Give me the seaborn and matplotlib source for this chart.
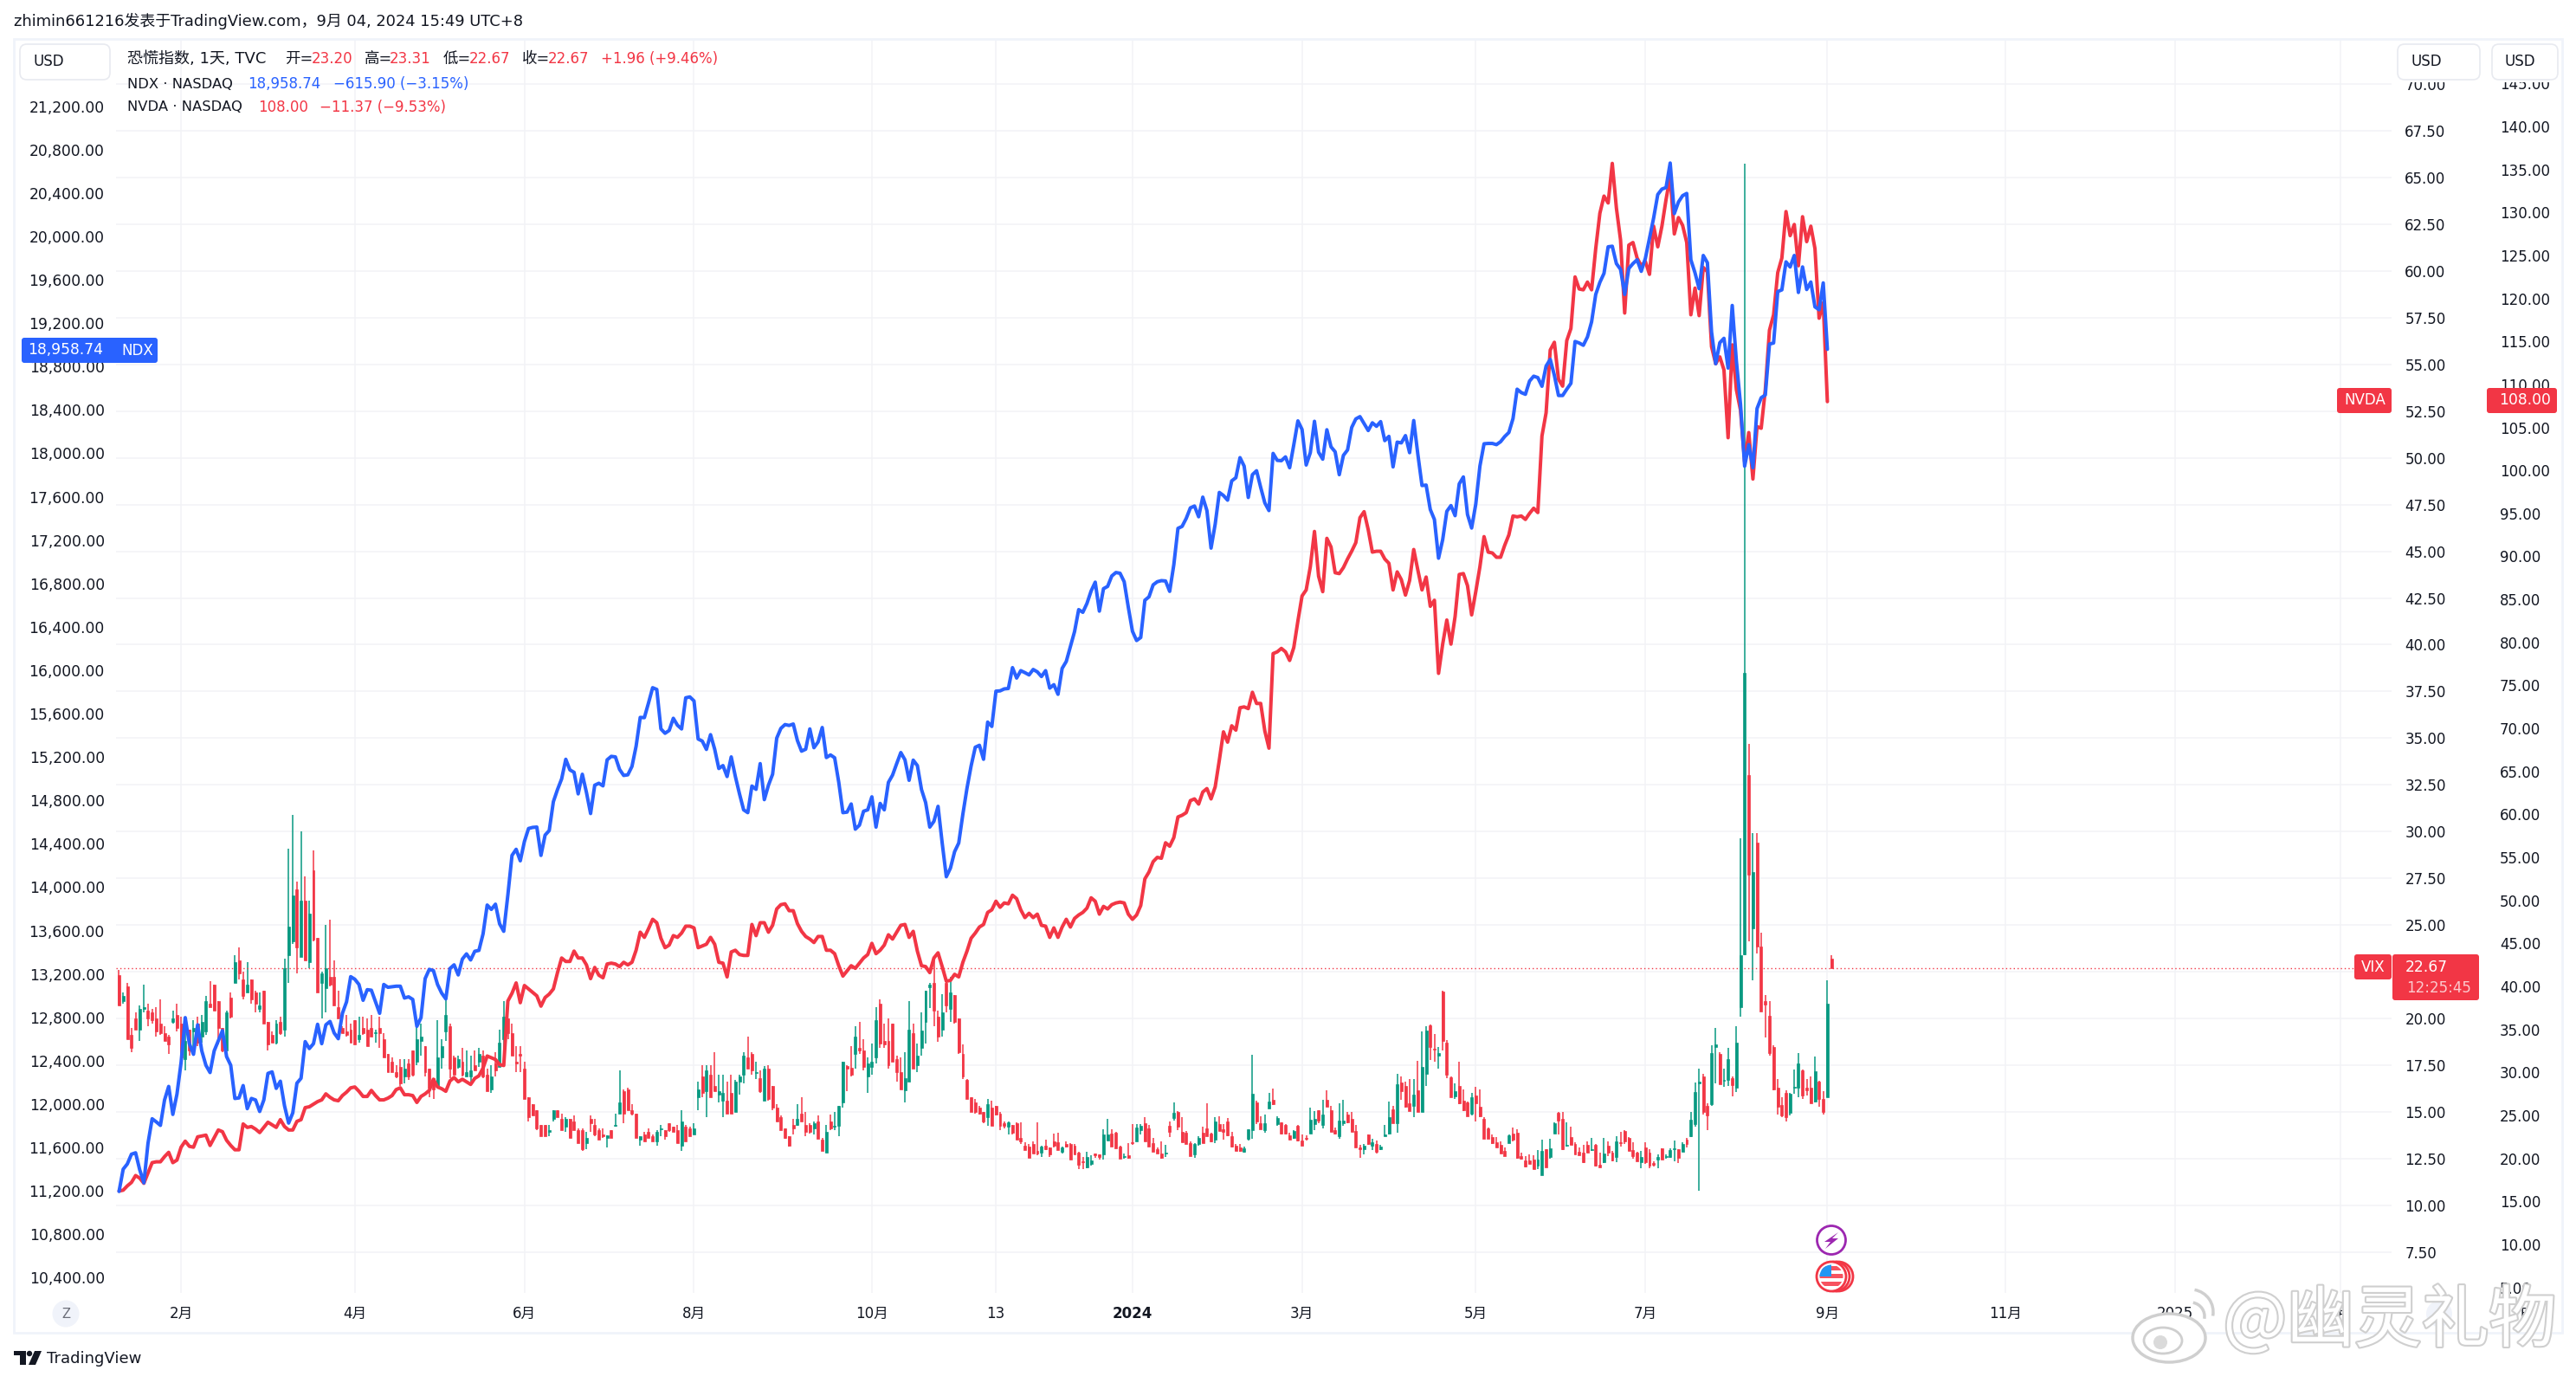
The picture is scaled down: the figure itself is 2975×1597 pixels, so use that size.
# vix / ndx / nvda tradingview overlay
import numpy as np
import pandas as pd
import matplotlib
matplotlib.use("Agg")
import matplotlib.pyplot as plt
import matplotlib.patheffects as pe
from matplotlib.patches import Rectangle, Circle, Ellipse, FancyBboxPatch, Polygon
import seaborn as sns

# --- Data ---
ndx_close = [
    11195,11400,11448,11538,11551,11394,11274,11639,11865,11836,
    11804,12038,12163,11905,12092,12384,12797,12557,12459,12731,
    12491,12358,12291,12491,12584,12677,12438,12358,12052,12057,
    12171,11958,12052,12038,11932,12038,12283,12297,12145,12211,
    11985,11825,11919,12193,12238,12576,12512,12557,12736,12557,
    12731,12762,12656,12603,12837,12943,13175,13151,13103,12957,
    13055,13050,12943,12837,13103,13077,13082,13087,13087,12978,
    12989,12965,12717,12797,13157,13242,13231,13103,13023,12970,
    13250,13284,13191,13337,13385,13329,13409,13417,13569,13835,
    13795,13843,13662,13593,13928,14293,14349,14243,14421,14541,
    14551,14554,14293,14480,14522,14788,14900,14998,15179,15081,
    15059,14860,15041,14873,14679,14940,14958,14934,15174,15206,
    15201,15086,15030,15036,15113,15299,15565,15563,15698,15839,
    15823,15459,15419,15445,15557,15493,15459,15746,15754,15717,
    15366,15347,15270,15406,15272,15094,15121,15020,15201,15020,
    14860,14713,14687,14932,14902,15139,14807,14940,15041,15374,
    15464,15499,15491,15504,15352,15254,15272,15459,15286,15339,
    15472,15195,15219,15193,14966,14687,14692,14767,14535,14572,
    14700,14713,14833,14554,14772,14713,14966,15033,15139,15241,
    15174,14985,15171,15121,14900,14780,14554,14607,14745,14407,
    14096,14176,14327,14407,14673,14913,15119,15290,15308,15179,
    15522,15482,15807,15810,15828,15832,16024,15928,15996,15978,
    15957,16007,15985,15942,15996,15835,15867,15778,16017,16081,
    16217,16356,16559,16534,16616,16730,16812,16545,16752,16773,
    16869,16901,16894,16816,16580,16359,16274,16302,16645,16677,
    16787,16816,16826,16823,16727,16973,17308,17326,17400,17497,
    17514,17415,17596,17472,17126,17347,17639,17611,17568,17746,
    17775,17960,17882,17593,17803,17839,17686,17543,17472,17999,
    17935,17932,17967,17867,18078,18299,18220,17892,18006,18295,
    18010,17946,18217,18060,18014,17803,17981,18031,18238,18317,
    18338,18274,18210,18281,18249,18292,18117,18156,17875,18103,
    18096,18163,18006,18302,17989,17703,17707,17482,17390,17033,
    17204,17465,17518,17425,17718,17782,17436,17311,17532,17882,
    18088,18091,18091,18080,18107,18155,18192,18320,18591,18560,
    18544,18666,18711,18698,18618,18804,18866,18719,18533,18533,
    18591,18645,19031,19017,18996,19073,19212,19465,19576,19659,
    19904,19909,19749,19696,19465,19704,19749,19784,19678,19797,
    19984,20170,20386,20436,20450,20676,20210,20317,20375,20396,
    19784,19664,19518,19824,19757,19119,18826,19020,19060,18786,
    19363,18852,18453,17881,18080,17867,18413,18512,18538,19007,
    19017,19491,19507,19765,19718,19824,19483,19718,19510,19579,
    19350,19324,19571,18959,
]
nvda_close = [
    16.2,16.3,16.8,17.2,18.0,17.7,17.1,18.3,19.5,19.6,
    19.6,20.2,20.7,19.5,19.8,21.3,22.0,21.4,21.3,22.5,
    22.6,22.7,21.5,22.4,23.3,23.1,22.1,21.5,21.0,21.0,
    24.0,23.6,23.7,23.4,23.0,23.6,24.2,23.9,23.6,24.5,
    23.7,23.3,23.3,24.3,24.5,25.9,26.0,26.3,26.6,26.8,
    27.5,27.1,26.8,26.7,27.3,27.7,28.2,28.3,27.8,27.2,
    27.2,27.9,27.3,26.8,26.8,27.0,27.3,28.0,28.2,27.4,
    27.4,27.3,26.5,27.2,27.5,27.9,29.2,28.3,28.1,27.8,
    29.0,29.4,28.9,29.2,28.9,28.6,29.3,29.6,30.5,31.9,
    31.7,31.5,30.9,30.8,38.3,39.2,40.4,38.1,40.1,39.7,
    39.3,38.9,37.7,38.7,39.1,39.7,41.6,43.3,42.9,42.9,
    44.1,43.3,43.3,42.5,40.9,42.2,41.3,41.0,42.6,42.7,
    42.6,42.3,42.8,42.5,42.8,44.2,46.3,45.7,46.7,47.8,
    47.4,45.6,44.5,44.8,45.9,45.7,46.2,47.0,47.0,46.8,
    44.5,44.7,44.9,45.7,44.9,42.8,42.7,41.1,44.0,44.2,
    43.7,43.6,43.6,47.2,45.9,47.4,47.4,46.3,47.1,49.0,
    49.5,49.6,48.8,48.8,47.3,46.4,45.8,45.5,45.1,45.8,
    45.8,44.2,44.2,43.8,42.4,41.2,41.8,42.4,42.1,42.7,
    43.3,43.7,45.0,43.8,44.2,44.8,46.0,45.5,46.3,47.1,
    47.2,45.7,46.4,44.1,42.4,42.3,41.6,43.3,43.9,42.3,
    40.6,40.7,41.4,41.1,42.8,44.1,45.6,46.2,46.9,47.2,
    48.6,48.9,49.9,49.2,49.7,49.6,50.6,50.2,48.9,48.0,
    48.5,48.0,48.4,47.1,47.0,45.7,46.8,45.7,46.9,47.8,
    46.9,47.9,48.3,48.6,49.1,50.3,49.9,48.4,49.3,49.0,
    49.5,49.7,49.8,49.7,48.4,47.8,48.3,49.4,52.5,53.3,
    54.5,55.0,54.9,56.7,56.3,57.3,59.7,59.9,60.2,61.6,
    61.8,61.2,62.6,63.0,61.8,63.2,66.3,69.6,68.4,70.3,
    69.8,72.4,72.5,72.3,74.2,72.9,72.9,69.7,67.7,78.7,
    78.9,79.3,78.9,77.9,79.4,82.5,85.4,86.1,88.8,92.9,
    87.7,85.9,92.1,91.1,88.1,88.0,88.7,89.7,90.6,91.6,
    94.5,95.2,93.1,90.5,90.6,90.6,89.7,89.2,86.1,88.2,
    87.3,85.5,87.2,90.8,88.4,86.1,87.6,84.2,84.9,76.4,
    79.8,82.6,79.8,83.0,87.9,88.0,86.6,83.2,85.9,88.8,
    92.3,90.5,90.4,89.9,89.9,91.3,92.5,94.7,94.6,94.7,
    94.3,95.0,95.6,95.1,104.0,106.7,114.0,114.9,110.6,109.8,
    115.1,116.5,122.5,121.1,121.0,121.9,121.0,125.8,129.9,131.9,
    131.1,135.7,130.5,126.8,118.3,126.2,126.5,124.7,123.8,124.3,
    122.8,128.4,126.0,128.4,131.5,134.2,127.5,129.4,128.5,126.5,
    118.1,121.2,118.0,123.6,123.1,114.4,112.4,113.2,111.7,103.8,
    114.6,109.4,107.0,101.0,104.4,99.0,105.1,104.9,109.4,116.3,
    118.1,123.0,124.7,130.1,127.3,128.6,123.8,129.5,126.6,128.4,
    125.8,117.7,119.5,108.0,
]
vix_open = [
    22.3,20.9,21.7,19.1,20.0,19.4,20.5,20.4,20.3,20.0,
    19.7,19.2,19.0,19.8,20.2,19.7,17.8,19.4,19.3,19.7,
    19.0,19.3,20.8,21.8,20.9,19.5,18.3,21.1,21.9,23.1,
    22.1,21.4,22.1,21.4,20.5,21.5,19.8,19.1,18.7,19.8,
    19.4,23.4,24.1,26.9,23.3,26.3,23.0,27.9,24.3,21.9,
    21.6,22.2,22.2,20.6,19.5,19.3,19.4,19.9,18.9,19.5,
    19.4,19.5,19.2,19.5,18.9,18.1,17.7,17.1,17.4,16.9,
    17.6,18.3,17.7,18.8,18.5,17.3,16.8,16.4,17.9,19.3,
    19.6,17.9,17.4,17.7,16.9,16.9,17.5,17.7,18.0,17.0,
    16.2,17.6,17.4,18.9,20.0,19.2,17.7,18.1,17.3,15.8,
    15.4,15.1,14.3,14.3,13.9,14.6,15.1,14.6,14.2,14.6,
    14.5,14.0,14.0,13.3,14.6,14.3,14.0,13.8,13.6,14.0,
    14.25,14.9,16.1,16.2,15.1,14.9,13.5,13.8,13.9,13.7,
    13.4,14.05,14.0,14.4,14.2,14.0,13.2,14.2,14.1,13.8,
    15.8,16.9,16.1,17.0,16.4,15.9,15.6,15.6,16.0,15.0,
    16.6,17.0,17.9,18.1,17.08,16.8,15.6,17.3,16.4,15.2,
    14.7,14.1,13.7,14.3,14.3,14.9,14.3,14.3,14.1,14.5,
    13.5,12.8,14.5,14.2,14.25,15.5,17.45,17.35,18.1,18.4,
    18.3,16.9,17.4,17.9,20.8,18.8,18.8,19.7,17.8,17.1,
    16.15,16.6,19.2,17.5,18.4,19.8,21.67,21.9,20.1,19.4,
    21.9,20.5,21.25,20.0,18.1,16.7,15.8,15.5,15.2,15.0,
    14.7,15.2,15.3,14.9,14.37,14.2,14.3,14.39,13.6,13.2,
    13.13,13.27,12.9,12.81,13.18,13.09,13.41,13.37,12.86,13.27,
    13.27,13.18,12.81,12.35,12.02,12.21,12.76,12.72,12.72,13.46,
    13.83,13.88,13.13,12.58,12.67,13.37,13.41,14.02,14.39,14.11,
    13.32,13.0,12.76,12.76,14.25,14.66,14.99,13.92,13.88,13.32,
    12.72,13.27,13.88,14.11,13.83,13.5,14.34,14.06,14.48,13.69,
    13.18,13.09,12.86,13.55,14.02,15.5,14.39,14.02,15.17,15.64,
    14.34,14.43,14.3,13.74,13.6,14.25,13.46,13.6,13.83,14.34,
    15.08,14.3,15.64,15.08,14.02,13.69,14.39,14.85,14.62,13.97,
    13.09,13.0,13.78,13.18,13.27,13.0,13.69,13.83,15.13,14.39,
    16.56,16.38,15.45,15.31,16.15,14.99,17.03,19.62,18.37,18.0,
    21.43,18.7,16.84,15.82,16.38,15.59,15.5,14.9,15.87,15.27,
    14.62,14.11,13.64,13.37,13.23,12.9,13.32,13.83,13.88,12.62,
    12.39,12.39,12.44,12.12,11.6,13.0,12.58,13.83,14.94,14.62,
    13.18,13.64,13.27,12.86,12.81,13.23,12.95,13.23,12.16,12.3,
    13.18,12.81,12.58,13.37,13.97,13.6,12.95,12.81,12.3,13.09,
    12.81,12.25,12.44,13.04,12.58,12.58,13.0,13.0,12.86,13.5,
    13.69,14.34,16.52,16.89,15.31,15.41,18.46,18.09,16.66,16.7,
    16.8,16.29,20.6,23.44,33.0,24.8,29.4,23.85,20.9,20.13,
    18.47,16.3,15.34,15.99,14.92,16.27,16.27,17.2,16.3,16.27,
    15.54,16.62,15.7,15.77,23.2,
]
vix_close = [
    20.7,21.2,18.9,18.4,19.4,20.5,20.6,20.0,19.9,19.3,
    19.2,18.8,18.6,20.0,19.5,17.9,18.8,18.3,19.5,18.7,
    19.8,20.9,20.6,20.4,19.5,18.3,20.3,20.1,23.0,22.4,
    21.2,21.8,21.0,20.8,20.7,19.7,18.6,18.7,19.7,19.2,
    22.7,24.9,26.6,23.8,26.3,23.1,25.6,24.2,21.4,22.4,
    22.7,21.8,20.7,20.0,19.2,19.1,18.7,18.6,19.1,19.2,
    18.5,19.0,19.25,19.2,17.9,17.1,17.1,16.9,16.5,17.3,
    16.9,17.0,18.9,19.0,17.1,16.3,16.2,17.9,18.5,20.2,
    17.3,17.0,17.8,17.0,17.1,17.2,17.2,18.1,16.9,16.1,
    16.9,17.2,18.7,20.1,19.2,18.0,17.6,18.0,15.7,14.7,
    14.8,14.1,13.7,13.7,14.0,15.1,14.7,14.0,14.6,13.6,
    14.0,13.3,13.0,13.6,14.4,13.8,13.5,13.7,13.74,13.6,
    14.3,15.5,14.9,15.1,14.9,13.6,13.7,13.4,13.6,13.4,
    13.9,14.1,13.7,14.0,13.9,13.3,14.5,13.4,13.7,14.1,
    16.2,16.0,17.2,15.8,16.1,16.1,16.0,14.9,14.9,16.6,
    16.9,18.0,17.3,17.2,17.1,16.1,17.3,15.7,15.2,14.5,
    14.0,13.6,13.2,14.1,14.6,14.5,13.9,13.9,14.4,13.55,
    12.9,13.9,14.1,14.25,15.3,17.7,17.3,17.0,19.0,18.3,
    17.4,17.6,17.7,19.9,18.65,18.6,17.5,17.7,17.1,16.2,
    16.8,19.4,17.3,18.0,19.35,21.5,21.8,20.4,19.0,20.3,
    20.7,21.4,19.8,18.2,16.9,15.7,15.0,15.0,14.9,14.5,
    15.4,14.25,14.85,14.25,14.25,14.43,13.86,13.5,13.41,12.95,
    12.53,12.76,12.76,13.13,13.0,12.72,13.18,12.95,13.09,13.13,
    12.44,12.72,12.16,12.32,12.58,12.39,12.67,12.58,13.78,13.78,
    13.13,13.04,12.49,12.61,12.53,13.32,14.15,14.25,13.41,13.13,
    12.86,12.76,12.53,12.81,13.92,14.94,14.2,13.37,13.27,12.62,
    13.27,13.6,13.32,13.69,13.41,14.48,13.97,13.92,13.74,13.13,
    12.9,12.9,13.04,14.06,15.96,14.48,14.06,14.39,15.55,15.41,
    14.66,13.83,13.83,13.5,13.97,13.46,13.18,13.55,14.57,14.62,
    14.53,14.85,15.27,13.92,13.83,14.53,14.53,14.43,13.92,13.09,
    13.0,13.18,13.27,13.37,12.86,13.13,13.78,14.71,14.39,16.47,
    16.1,15.27,15.03,15.92,14.99,17.4,19.35,18.46,18.33,18.14,
    18.79,16.98,15.78,16.1,15.45,15.08,14.76,15.78,15.45,14.76,
    13.55,13.55,13.32,13.09,12.76,12.62,13.74,13.5,12.53,12.49,
    12.07,12.21,11.93,12.44,12.9,12.02,13.04,14.39,14.53,13.0,
    13.23,13.23,12.72,12.67,12.3,12.81,13.0,12.12,12.02,12.76,
    12.81,12.39,13.41,13.32,13.41,12.9,12.62,12.35,12.58,12.3,
    12.12,12.16,12.58,12.44,12.62,12.95,13.04,12.53,13.27,13.27,
    14.57,16.05,16.61,14.99,14.8,18.14,18.6,16.47,16.7,17.82,
    16.43,18.7,23.4,38.5,27.7,27.85,23.85,20.36,20.75,18.13,
    16.2,15.25,14.8,14.7,15.95,16.32,17.6,15.87,16.14,15.44,
    17.15,15.7,15.0,20.8,22.67,
]
vix_high = [
    22.6,21.4,21.9,19.5,20.3,20.7,21.8,20.8,20.5,20.6,
    21.0,19.6,19.1,20.4,20.8,20.1,20.1,19.4,19.9,20.1,
    20.2,21.2,22.0,21.8,20.9,19.5,20.4,21.4,23.4,23.8,
    22.5,23.0,22.1,21.5,21.4,21.5,19.8,19.3,19.9,20.1,
    23.2,29.1,30.9,27.3,30.0,27.6,26.3,29.0,24.3,22.5,
    25.0,25.3,23.1,21.5,19.6,20.2,19.7,19.9,20.1,20.1,
    20.0,20.2,19.4,20.1,19.2,18.1,17.9,17.5,17.8,17.8,
    17.8,18.3,19.7,19.7,18.5,17.3,16.8,19.9,18.9,21.1,
    19.7,18.0,18.0,18.4,18.3,18.0,18.3,18.4,18.3,17.3,
    17.5,18.2,19.4,20.9,20.0,19.7,18.5,18.5,17.7,15.8,
    15.4,15.1,14.3,14.3,14.3,15.1,15.1,14.9,14.7,14.6,
    14.8,14.1,14.1,13.9,14.8,14.6,14.1,14.1,13.74,14.0,
    14.9,17.2,16.2,16.3,15.4,14.9,13.7,13.9,14.1,13.8,
    14.0,14.3,14.0,14.4,14.2,14.3,15.1,14.3,14.2,14.4,
    16.6,17.5,17.5,17.5,18.2,17.0,17.0,16.6,17.0,16.7,
    17.0,18.2,19.0,18.2,17.7,17.2,17.45,17.5,16.4,15.4,
    14.8,14.1,13.7,14.6,15.4,15.8,15.0,14.4,14.5,14.8,
    13.6,14.3,14.85,15.0,15.3,17.7,17.5,18.5,19.6,19.8,
    18.9,17.9,18.65,20.6,21.0,19.7,20.0,19.7,18.0,17.9,
    18.2,20.9,19.7,18.65,20.3,21.5,21.9,23.2,20.4,21.3,
    22.0,22.2,21.25,20.0,18.6,16.75,15.8,15.7,15.3,15.0,
    15.7,15.6,15.3,15.0,14.48,14.5,14.3,14.43,14.43,13.37,
    13.27,13.41,14.43,13.2,13.5,13.09,13.83,13.88,13.13,13.41,
    13.32,13.27,12.86,12.58,12.86,12.67,12.76,12.72,14.06,14.62,
    14.06,13.92,13.18,12.76,13.32,14.34,14.34,14.34,14.71,14.3,
    13.6,13.09,13.41,13.23,14.48,15.5,15.03,14.71,13.97,13.41,
    13.32,13.69,14.2,15.45,13.88,14.71,14.76,14.34,14.66,13.92,
    13.27,13.27,13.13,14.06,18.05,15.59,14.76,14.85,16.01,16.24,
    14.76,14.43,14.34,13.88,14.02,14.3,13.78,13.74,15.22,15.03,
    15.08,15.64,16.15,15.31,14.15,15.45,15.64,14.99,14.99,14.3,
    13.23,13.27,13.78,13.55,13.46,13.23,14.3,15.55,15.31,17.03,
    16.89,16.61,16.75,16.75,17.72,19.3,19.58,19.67,19.17,18.46,
    21.48,18.84,16.89,16.52,17.68,16.19,15.55,16.01,16.33,16.19,
    14.71,14.15,13.78,13.64,13.41,13.09,13.78,14.15,14.06,12.81,
    12.62,12.72,12.67,12.95,13.5,13.0,13.55,14.43,14.99,14.99,
    14.43,14.2,13.37,13.09,13.23,13.41,13.6,13.27,12.81,13.6,
    13.41,12.9,13.69,13.92,14.02,13.64,13.37,12.86,12.9,13.37,
    13.0,12.35,12.72,13.04,12.72,13.04,13.46,13.0,13.37,13.6,
    14.99,16.56,17.31,17.03,15.45,18.56,19.48,18.19,17.31,18.42,
    16.89,19.58,29.66,65.73,34.7,29.9,29.9,24.6,21.25,20.9,
    18.55,16.73,15.8,16.14,16.0,17.25,18.13,17.25,16.73,16.87,
    17.95,16.64,16.1,22.04,23.4,
]
vix_low = [
    20.7,20.8,18.9,18.2,19.4,18.8,20.3,19.6,19.7,19.0,
    19.1,18.8,18.1,19.7,19.3,17.9,17.2,18.0,18.0,18.5,
    18.7,19.1,20.6,20.4,18.6,18.2,18.3,20.0,21.9,22.1,
    21.0,21.4,20.8,20.3,20.3,19.7,18.3,18.7,18.6,19.1,
    19.0,21.9,24.0,22.4,23.3,23.1,22.7,24.1,21.4,20.0,
    20.3,21.7,20.7,20.0,19.2,19.0,18.7,18.6,18.7,19.1,
    18.5,19.0,18.7,18.4,17.9,17.1,17.1,16.8,16.4,16.5,
    16.7,16.9,17.5,18.0,16.9,15.8,15.7,16.3,17.3,18.8,
    16.8,17.0,17.3,16.9,16.9,16.6,17.2,17.4,16.8,16.1,
    16.0,16.9,17.4,17.4,18.9,18.0,17.1,17.1,15.7,14.5,
    14.8,14.0,13.7,13.7,13.7,14.5,14.7,14.0,13.9,13.6,
    14.0,13.3,12.9,13.0,13.9,13.7,13.5,13.6,13.1,13.6,
    14.2,14.9,14.4,15.1,14.8,13.6,13.2,13.4,13.6,13.4,
    13.2,13.7,13.5,13.9,13.9,13.3,12.9,13.4,13.7,13.8,
    15.1,15.8,14.7,15.8,16.1,15.5,14.7,14.9,14.9,15.0,
    15.9,16.5,17.3,17.0,16.75,16.0,15.6,15.6,15.1,14.5,
    14.0,13.55,13.14,13.8,14.25,14.5,13.7,13.85,13.8,13.55,
    12.9,12.8,14.0,14.0,13.7,15.2,16.1,16.9,17.3,18.1,
    17.2,16.0,17.0,17.6,18.4,18.4,17.3,17.7,16.6,16.2,
    15.5,16.6,17.3,17.1,18.0,18.65,20.55,19.6,18.75,19.0,
    20.3,19.8,19.7,18.1,16.75,15.7,15.0,14.9,14.85,14.4,
    14.25,14.25,14.8,14.0,14.12,13.8,13.8,13.5,13.27,12.95,
    12.53,12.76,12.67,12.6,12.95,12.6,13.09,12.95,12.76,13.09,
    12.44,12.72,11.93,11.93,11.98,12.12,12.53,12.44,12.44,13.46,
    13.13,13.04,12.49,12.49,12.49,13.23,13.41,13.78,13.41,13.13,
    12.86,12.76,12.49,12.58,13.64,14.53,14.02,13.37,13.27,12.62,
    12.53,13.18,13.32,13.69,13.37,13.32,13.97,13.5,13.69,13.09,
    12.9,12.86,12.81,13.46,13.55,14.34,14.06,13.88,15.17,15.36,
    14.25,13.78,13.78,13.5,13.55,13.41,13.18,13.46,13.83,14.02,
    14.39,14.11,15.27,13.92,13.78,13.55,14.25,14.39,13.92,13.09,
    12.53,12.72,13.23,12.95,12.76,12.95,13.69,13.78,14.39,13.88,
    15.64,15.22,15.03,14.71,14.99,14.99,16.38,17.77,17.68,17.31,
    18.28,16.8,15.78,15.68,15.41,15.03,14.76,14.8,14.48,14.71,
    13.55,13.55,13.27,13.09,12.76,12.62,13.32,13.41,12.49,12.44,
    12.02,12.21,11.93,11.93,11.6,12.02,12.49,13.83,13.78,12.95,
    13.13,13.23,12.72,12.67,12.25,12.81,12.9,12.07,12.02,12.25,
    12.62,12.35,12.3,13.13,13.27,12.9,12.49,12.35,11.98,12.21,
    11.98,12.07,11.98,12.44,12.49,12.53,12.35,12.25,12.86,13.09,
    13.64,14.2,10.77,14.85,14.02,15.31,16.52,16.47,16.33,16.38,
    15.82,16.06,20.1,23.4,24.1,22.05,23.46,20.36,18.97,18.0,
    16.17,14.84,14.7,14.5,14.82,15.97,15.8,15.67,15.87,15.44,
    15.5,15.25,14.84,15.77,22.67,
]
time_ticks = [15, 57, 98, 139, 182, 212, 245, 286, 328, 369, 413, 456, 497, 537]
time_labels = ["2月", "4月", "6月", "8月", "10月", "13", "2024", "3月", "5月", "7月", "9月", "11月", "2025", "3月"]
ndx_ticks = list(range(10400, 21201, 400))
vix_ticks = [7.5 + 2.5 * k for k in range(26)]
nvda_ticks = list(range(5, 146, 5))

RED = "#F23645"
GREEN = "#089981"
BLUE = "#2962FF"
INK = "#131722"
GRID = "#F2F3F6"
FRAME = "#F0F3FA"

sns.set_theme(style="white")
plt.rcParams["font.family"] = ["DejaVu Sans", "Noto Sans CJK SC"]

W, H = 2975, 1597
L, R, T, B = 134, 2762, 46, 1493
fig = plt.figure(figsize=(W / 100, H / 100), dpi=100, facecolor="white")
ax_vix = fig.add_axes([L / W, 1 - B / H, (R - L) / W, (B - T) / H])
ax_nvda = ax_vix.twinx()
ax_ndx = ax_vix.twinx()

# --- VIX candles ---
candles = pd.DataFrame({"open": vix_open, "high": vix_high, "low": vix_low, "close": vix_close})
candles["day"] = candles.index
candles["color"] = np.where(candles["close"] >= candles["open"], GREEN, RED)
ax_vix.vlines(candles["day"], candles["low"], candles["high"], colors=candles["color"], linewidth=1.1, zorder=2)
ax_vix.bar(candles["day"], (candles["close"] - candles["open"]).abs(),
           bottom=candles[["open", "close"]].min(axis=1), width=0.62,
           color=candles["color"], edgecolor=candles["color"], linewidth=0.5, zorder=3)
ax_vix.axhline(vix_close[-1], color=RED, linewidth=1, linestyle=(0, (1, 2.2)), zorder=2)

# --- Lines ---
sns.lineplot(x=np.arange(len(nvda_close)), y=nvda_close, ax=ax_nvda, color=RED, linewidth=2.9,
             estimator=None, legend=False, solid_joinstyle="round")
sns.lineplot(x=np.arange(len(ndx_close)), y=ndx_close, ax=ax_ndx, color=BLUE, linewidth=2.9,
             estimator=None, legend=False, solid_joinstyle="round")

# --- Scales ---
ax_vix.set_xlim(-0.73, 549.4)
ax_vix.set_ylim(5.30, 72.38)
ax_nvda.set_ylim(4.35, 150.07)
ax_ndx.set_ylim(10259, 21812)

ax_vix.set_xticks(time_ticks, time_labels)
ax_vix.set_yticks(vix_ticks, [f"{v:.2f}" for v in vix_ticks])
ax_nvda.set_yticks(nvda_ticks, [f"{v:.2f}" for v in nvda_ticks])
ax_ndx.set_yticks(ndx_ticks, [f"{v:,.2f}" for v in ndx_ticks])
ax_vix.yaxis.tick_right()
ax_ndx.yaxis.tick_left()
ax_vix.grid(True, color=GRID, linewidth=1.1)
ax_vix.set_axisbelow(True)

ax_vix.tick_params(axis="x", length=0, pad=11, labelsize=12, labelcolor=INK)
ax_vix.tick_params(axis="y", length=0, pad=11, labelsize=12, labelcolor=INK, labelright=True, labelleft=False)
ax_nvda.tick_params(axis="y", length=0, pad=90, labelsize=12, labelcolor=INK)
ax_ndx.tick_params(axis="y", length=0, pad=9.5, labelsize=12.3, labelcolor=INK)
for lab in ax_vix.get_xticklabels():
    if lab.get_text() == "2024":
        lab.set_fontweight("bold")
for a in (ax_vix, ax_nvda, ax_ndx):
    a.set(xlabel="", ylabel="")
    sns.despine(ax=a, left=True, right=True, top=True, bottom=True)

# --- Chrome in pixel coordinates ---
ov = fig.add_axes([0, 0, 1, 1], zorder=10)
ov.set_xlim(0, W)
ov.set_ylim(H, 0)
ov.axis("off")


def label(x, y, s, color=INK, size=12, ha="left", **kw):
    return ov.text(x, y, s, color=color, fontsize=size, ha=ha, va="center", **kw)


def tag(x0, y0, x1, y1, color=RED):
    ov.add_patch(FancyBboxPatch((x0 + 3, y0 + 3), x1 - x0 - 6, y1 - y0 - 6, boxstyle="round,pad=3",
                                facecolor=color, edgecolor="none"))


def usd(x0, x1, tx):
    ov.add_patch(FancyBboxPatch((x0 + 8, 51 + 8), x1 - x0 - 16, 41 - 16, boxstyle="round,pad=8",
                                facecolor="white", edgecolor="#E8EAF0", linewidth=1.2))
    label(tx, 71, "USD", size=12)


ov.add_patch(Rectangle((16, 45), 2943, 1494, fill=False, edgecolor=FRAME, linewidth=2))
ov.add_patch(Rectangle((2765, 47), 192, 48, facecolor="white", edgecolor="none"))
usd(23, 127, 38)
usd(2769, 2864, 2784)
usd(2878, 2954, 2893)

label(16, 24, "zhimin661216发表于TradingView.com，9月 04, 2024 15:49 UTC+8", size=12.9)
label(147, 68, "恐慌指数, 1天, TVC", size=13)
for x, s in [(329, "开="), (421, "高="), (512, "低="), (603, "收=")]:
    label(x, 68, s, size=12.6)
for x, s in [(360, "23.20"), (450, "23.31"), (542, "22.67"), (633, "22.67"), (694, "+1.96 (+9.46%)")]:
    label(x, 68, s, color=RED, size=12)
label(147, 97, "NDX · NASDAQ", size=11.8)
label(286, 97, "18,958.74", color=BLUE, size=12)
label(385, 97, "−615.90 (−3.15%)", color=BLUE, size=12)
label(147, 124, "NVDA · NASDAQ", size=11.8)
label(298, 124, "108.00", color=RED, size=12)
label(369, 124, "−11.37 (−9.53%)", color=RED, size=12)

# price tags
tag(25, 390, 182, 419, BLUE)
label(32, 404, "18,958.74", color="white", size=12.3)
label(140, 405, "NDX", color="white", size=12)
tag(2699, 448, 2762, 477)
label(2731, 462, "NVDA", color="white", size=12, ha="center")
tag(2872, 448, 2953, 477)
label(2946, 462, "108.00", color="white", size=12.3, ha="right")
tag(2719, 1102, 2762, 1131)
label(2741, 1117, "VIX", color="white", size=12, ha="center")
tag(2763, 1102, 2863, 1155)
label(2778, 1117, "22.67", color="white", size=12.3)
label(2779, 1141, "12:25:45", color="#FBC9CD", size=12)

# axis buttons
ov.add_patch(Ellipse((76, 1517), 31, 31, facecolor="#F0F3FA", edgecolor="none"))
label(76, 1517, "Z", color="#6A6D78", size=10.5, ha="center")
ov.add_patch(Circle((2817, 1517), 15, facecolor="#F0F3FA", edgecolor="none"))
label(2817, 1517, "A", size=11, ha="center")
label(2915, 1517, "F", size=11, ha="center")

# event markers under the last bar
ov.add_patch(Circle((2115, 1432), 16.5, facecolor="white", edgecolor="#9C27B0", linewidth=2))
ov.add_patch(Polygon([(2123, 1423), (2107, 1434), (2114, 1434), (2108, 1442), (2123, 1430), (2116, 1430)],
                     facecolor="#9C27B0", edgecolor="none"))
for dx in (10, 6, 2):
    ov.add_patch(Circle((2113 + dx, 1474), 17, facecolor="white", edgecolor=RED, linewidth=2))
flag = Circle((2115, 1474), 13.5, transform=ov.transData)
for y in (1462, 1471, 1480):
    r = Rectangle((2100, y), 30, 5, facecolor="#F7525F", edgecolor="none")
    ov.add_patch(r)
    r.set_clip_path(flag)
canton = Rectangle((2100, 1460), 15, 14, facecolor="#2196F3", edgecolor="none")
ov.add_patch(canton)
canton.set_clip_path(flag)

# tradingview logo
ov.add_patch(Polygon([(16, 1560), (30, 1560), (30, 1576), (23, 1576), (23, 1565), (16, 1565)], facecolor=INK, edgecolor="none"))
ov.add_patch(Circle((34, 1563), 3.2, facecolor=INK, edgecolor="none"))
ov.add_patch(Polygon([(40, 1560), (48, 1560), (41, 1576), (33, 1576)], facecolor=INK, edgecolor="none"))
label(54, 1569, "TradingView", size=13)

# watermark
halo = [pe.withStroke(linewidth=3, foreground="#CFCFCF")]
ov.text(2952, 1527, "@幽灵礼物", color="white", fontsize=56, ha="right", va="center",
        family=["Noto Sans CJK SC", "DejaVu Sans"], path_effects=halo)
ov.add_patch(Ellipse((2505, 1545), 84, 56, facecolor="white", edgecolor="#CFCFCF", linewidth=2.5))
ov.add_patch(Ellipse((2498, 1548), 44, 30, facecolor="white", edgecolor="#CFCFCF", linewidth=2))
ov.add_patch(Circle((2495, 1550), 8, facecolor="#DADADA", edgecolor="none"))
for rad, y0 in ((26, 1515), (16, 1520)):
    ov.add_patch(matplotlib.patches.Arc((2530, y0), 2 * rad, 2 * rad, theta1=-80, theta2=10,
                                        edgecolor="#CFCFCF", linewidth=2.5))

fig.savefig("out.png", dpi=100, facecolor="white")
